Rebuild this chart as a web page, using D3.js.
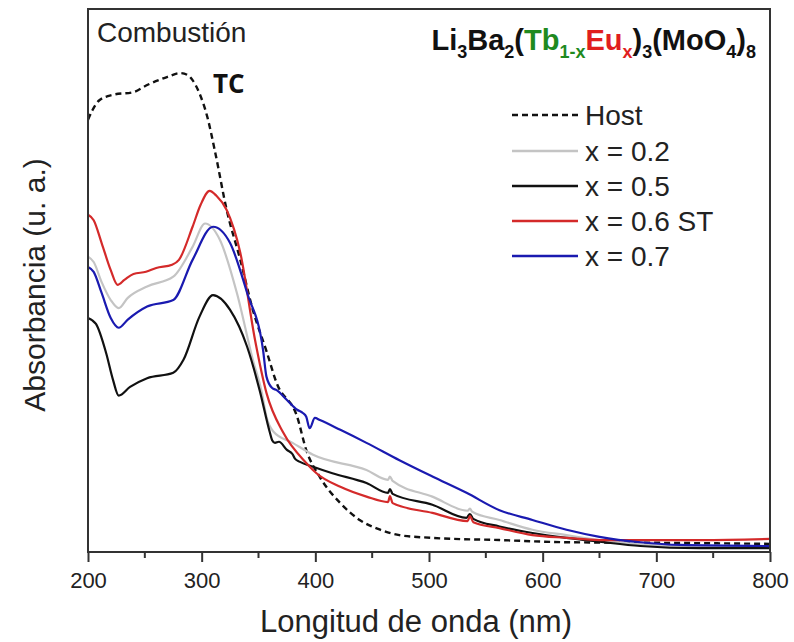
<!DOCTYPE html>
<html>
<head>
<meta charset="utf-8">
<script src="https://cdn.jsdelivr.net/npm/d3@7"></script>
<style>
  body { margin: 0; background: #fff; }
  svg { display: block; font-family: "Liberation Sans", Arial, sans-serif; }
</style>
</head>
<body>
<div id="chart"></div>
<script>
// wavelength (nm), absorbance (a.u., 0-100 of frame height)
const hostData = [
  [200, 79.6], [204, 81.4], [210, 83.2], [222, 84.2], [240, 84.7], [252, 86.0],
  [270, 87.5], [281, 88.2], [288, 87.8], [292, 86.9], [298, 84.5], [305, 80.1],
  [312, 73.5], [322, 63.0], [334, 53.8], [345, 44.6], [357, 37.0], [366, 31.1],
  [384, 24.9], [392, 18.8], [404, 13.8], [422, 9.0], [439, 5.9], [457, 4.1],
  [474, 3.1], [503, 2.6], [562, 2.2], [621, 1.8], [700, 1.7], [800, 1.5]
];
const x02Data = [
  [200, 54.4], [205, 53.4], [212, 49.7], [220, 46.4], [227, 44.9], [235, 46.8],
  [252, 48.9], [275, 50.7], [292, 56.2], [303, 60.5], [316, 57.5], [331, 47.7],
  [345, 35.4], [353, 29.3], [357, 24.9], [363, 22.2], [380, 20.1], [398, 17.9],
  [445, 15.1], [464, 13.3], [465.6, 13.9], [468, 13.1], [503, 10.2], [534, 7.6],
  [536, 8.0], [538, 7.4], [562, 5.9], [591, 4.1], [621, 3.1], [650, 2.2],
  [694, 1.3], [738, 0.9], [800, 0.9]
];
const x05Data = [
  [200, 43.1], [207, 42.0], [216, 36.6], [222, 31.7], [227, 28.8], [237, 30.4],
  [252, 32.0], [275, 33.0], [284, 35.4], [298, 43.3], [310, 47.3], [325, 44.6],
  [340, 37.8], [351, 29.8], [360, 22.0], [362, 20.6], [364.5, 20.1], [368, 20.3],
  [375, 18.8], [380, 18.0], [382, 17.2], [386.5, 16.6], [398, 15.7], [415, 14.5],
  [445, 12.7], [464, 10.9], [465.6, 11.6], [468, 10.7], [503, 8.7], [533, 6.3],
  [536, 7.0], [539, 6.1], [562, 4.7], [591, 3.5], [621, 2.6], [650, 1.9],
  [686, 1.1], [738, 0.7], [800, 0.7]
];
const x06Data = [
  [200, 62.1], [205, 61.1], [212, 56.9], [220, 51.9], [226, 49.2], [232, 50.1],
  [240, 51.2], [251, 51.6], [260, 52.3], [274, 52.9], [280, 53.8], [292, 59.9],
  [299, 63.9], [307, 66.5], [313, 65.6], [322, 63.0], [334, 55.1], [347, 39.0],
  [357, 29.3], [372, 21.9], [392, 16.4], [401, 14.5], [422, 12.0], [445, 10.2],
  [464, 9.2], [465.6, 10.3], [468, 9.0], [503, 7.2], [534, 5.7], [536, 6.6],
  [539, 5.5], [562, 4.4], [591, 3.1], [621, 2.6], [650, 2.2], [740, 2.2], [800, 2.4]
];
const x07Data = [
  [200, 52.5], [205, 51.6], [212, 47.7], [220, 43.1], [227, 41.3], [235, 42.8],
  [252, 45.2], [275, 46.4], [292, 53.8], [310, 59.9], [325, 56.9], [340, 47.7],
  [354, 37.2], [357, 32.3], [362, 30.2], [366, 29.8], [375, 28.0], [384, 26.2],
  [389, 25.6], [392, 24.9], [395, 22.8], [399.6, 24.7], [404, 24.3], [422, 22.5],
  [445, 20.1], [474, 16.9], [503, 13.9], [533, 10.9], [562, 7.7], [591, 5.9],
  [621, 4.1], [650, 2.8], [686, 1.8], [721, 1.3], [800, 1.1]
];

const seriesNames = ["Host", "x = 0.2", "x = 0.5", "x = 0.6 ST", "x = 0.7"];
const seriesColors = ["#111111", "#c4c4c4", "#111111", "#d42a2a", "#1a1ab0"];
const seriesData = [hostData, x02Data, x05Data, x06Data, x07Data];
const xTicks = [200, 300, 400, 500, 600, 700, 800];
const xMinorTicks = [250, 350, 450, 550, 650, 750];

const width = 794, height = 642;
const margin = { top: 9, right: 24, bottom: 90, left: 88 };

const svg = d3.select("#chart").append("svg")
  .attr("width", width)
  .attr("height", height);

const x = d3.scaleLinear().domain([200, 800]).range([margin.left, width - margin.right]);
const y = d3.scaleLinear().domain([0, 100]).range([height - margin.bottom, margin.top]);

const line = d3.line()
  .x(d => x(d[0]))
  .y(d => y(d[1]))
  .curve(d3.curveMonotoneX);

svg.append("g")
  .selectAll("path")
  .data(seriesData)
  .join("path")
  .attr("fill", "none")
  .attr("stroke", (d, i) => seriesColors[i])
  .attr("stroke-width", (d, i) => i === 0 ? 2.4 : 2.2)
  .attr("stroke-dasharray", (d, i) => i === 0 ? "6,4" : null)
  .attr("d", d => line(d));

// frame
svg.append("rect")
  .attr("x", x(200))
  .attr("y", y(100))
  .attr("width", x(800) - x(200))
  .attr("height", y(0) - y(100))
  .attr("fill", "none")
  .attr("stroke", "#333")
  .attr("stroke-width", 2);

// x axis
const xAxis = d3.axisBottom(x)
  .tickValues(xTicks)
  .tickSize(10)
  .tickPadding(10);
const gx = svg.append("g")
  .attr("transform", `translate(0,${y(0)})`)
  .call(xAxis);
gx.select(".domain").remove();
gx.selectAll(".tick line").attr("stroke", "#333").attr("stroke-width", 2);
gx.selectAll(".tick text")
  .attr("fill", "#222")
  .style("font-size", "22px")
  .style("font-family", "'Liberation Sans', Arial, sans-serif");

svg.append("g")
  .selectAll("line")
  .data(xMinorTicks)
  .join("line")
  .attr("x1", d => x(d)).attr("x2", d => x(d))
  .attr("y1", y(0)).attr("y2", y(0) + 6)
  .attr("stroke", "#333")
  .attr("stroke-width", 2);

// axis labels
svg.append("text")
  .attr("x", 416)
  .attr("y", 632)
  .attr("text-anchor", "middle")
  .attr("fill", "#222")
  .style("font-size", "31px")
  .text("Longitud de onda (nm)");

svg.append("text")
  .attr("transform", `translate(45,${285}) rotate(-90)`)
  .attr("text-anchor", "middle")
  .attr("fill", "#222")
  .style("font-size", "30px")
  .text("Absorbancia (u. a.)");

// annotations
svg.append("text")
  .attr("x", 97)
  .attr("y", 42)
  .attr("fill", "#222")
  .style("font-size", "28px")
  .text("Combustión");

svg.append("text")
  .attr("x", 213)
  .attr("y", 93)
  .attr("fill", "#111")
  .style("font-size", "26px")
  .style("font-weight", "bold")
  .style("font-family", "'Open Sans', sans-serif")
  .text("TC");

// formula
const formula = svg.append("text")
  .attr("x", 756)
  .attr("y", 50)
  .attr("text-anchor", "end")
  .attr("fill", "#111")
  .style("font-size", "29px")
  .style("font-weight", "bold");
const parts = [
  ["Li", null, 0], ["3", null, 1], ["Ba", null, 0], ["2", null, 1], ["(", null, 0],
  ["Tb", "#1f8a1f", 0], ["1-x", "#1f8a1f", 1], ["Eu", "#e01e1e", 0], ["x", "#e01e1e", 1],
  [")", null, 0], ["3", null, 1], ["(MoO", null, 0], ["4", null, 1], [")", null, 0], ["8", null, 1]
];
let prevSub = 0;
parts.forEach(p => {
  const t = formula.append("tspan")
    .text(p[0])
    .attr("fill", p[1] || "#111");
  if (p[2] === 1) {
    t.style("font-size", "18px").attr("dy", prevSub ? 0 : 8);
  } else {
    t.attr("dy", prevSub ? -8 : 0);
  }
  prevSub = p[2];
});

// legend
const legendRows = [115, 151, 186, 221, 256];
const legend = svg.append("g");
seriesNames.forEach((name, i) => {
  legend.append("line")
    .attr("x1", 512).attr("x2", 578)
    .attr("y1", legendRows[i]).attr("y2", legendRows[i])
    .attr("stroke", seriesColors[i])
    .attr("stroke-width", 2.4)
    .attr("stroke-dasharray", i === 0 ? "6,4" : null);
  legend.append("text")
    .attr("x", 585)
    .attr("y", legendRows[i])
    .attr("dy", "0.36em")
    .attr("fill", "#222")
    .style("font-size", "28px")
    .text(name);
});
</script>
</body>
</html>
